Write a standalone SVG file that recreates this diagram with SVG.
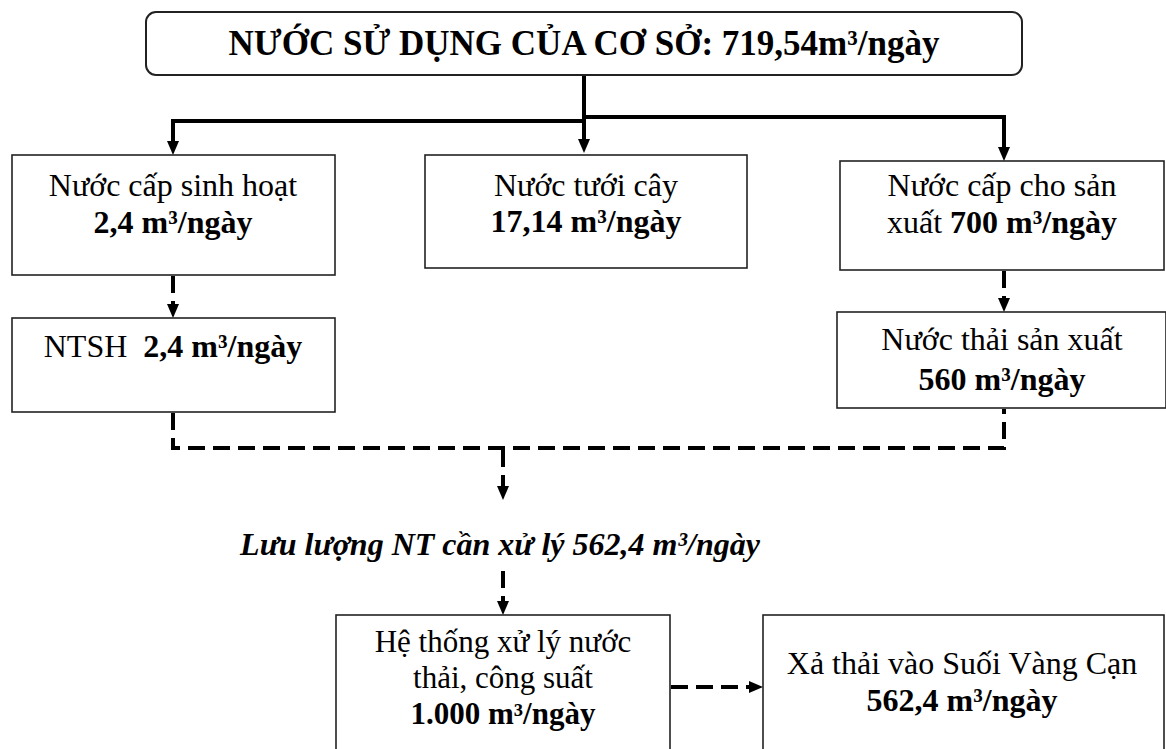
<svg xmlns="http://www.w3.org/2000/svg" width="1166" height="749" viewBox="0 0 1166 749">
<style>
text{font-family:"Liberation Serif","Times New Roman",serif;fill:#000;text-anchor:middle}
.t{font-size:32px}
.n{font-size:31px}
.b{font-weight:bold}
.title{font-size:35px;font-weight:bold}
.it{font-style:italic;font-weight:bold;font-size:32px}
.box{fill:#fff;stroke:#222;stroke-width:1.6}
.solid{fill:none;stroke:#000;stroke-width:4}
.dash{fill:none;stroke:#000;stroke-width:4;stroke-dasharray:17 8}
</style>
<defs>
<marker id="ah" markerUnits="userSpaceOnUse" markerWidth="14" markerHeight="12" viewBox="0 0 14 12" refX="0" refY="6" orient="auto">
<path d="M0,0 L14,6 L0,12 z" fill="#000"/>
</marker>
</defs>
<rect width="1166" height="749" fill="#fff"/>

<g id="connectors">
<path class="solid" d="M584,75 V123 M171,121 H584 M582,117 H1006"/>
<path class="solid" d="M173,121 V141" marker-end="url(#ah)"/>
<path class="solid" d="M584,117 V139" marker-end="url(#ah)"/>
<path class="solid" d="M1004,117 V147" marker-end="url(#ah)"/>
<path class="dash" d="M173,276 V304" marker-end="url(#ah)"/>
<path class="dash" d="M1004,271 V298" marker-end="url(#ah)"/>
<path class="dash" d="M173,413 V448 H1004 V409"/>
<path class="dash" d="M503,450 V486" marker-end="url(#ah)"/>
<path class="dash" d="M503,571 V601" marker-end="url(#ah)"/>
<path class="dash" d="M671,687 H749" marker-end="url(#ah)"/>
</g>

<g id="n_total">
<rect class="box" x="146" y="12" width="876" height="63" rx="10" ry="10" style="stroke-width:2"/>
<text class="title" x="584" y="55">NƯỚC SỬ DỤNG CỦA CƠ SỞ: 719,54m³/ngày</text>
</g>

<g id="n_sinhhoat">
<rect class="box" x="12" y="155" width="323" height="120"/>
<text class="t" x="173" y="196">Nước cấp sinh hoạt</text>
<text class="t b" x="173" y="233">2,4 m³/ngày</text>
</g>

<g id="n_tuoicay">
<rect class="box" x="425" y="155" width="322" height="113"/>
<text class="t" x="586" y="196">Nước tưới cây</text>
<text class="t b" x="586" y="232">17,14 m³/ngày</text>
</g>

<g id="n_sanxuat">
<rect class="box" x="840" y="161" width="324" height="109"/>
<text class="t" x="1002" y="196">Nước cấp cho sản</text>
<text class="t" x="1002" y="233">xuất <tspan class="b">700 m³/ngày</tspan></text>
</g>

<g id="n_ntsh">
<rect class="box" x="12" y="318" width="323" height="94"/>
<text class="t" x="173" y="357" xml:space="preserve">NTSH  <tspan class="b">2,4 m³/ngày</tspan></text>
</g>

<g id="n_ntsx">
<rect class="box" x="837" y="312" width="329" height="96"/>
<text class="t" x="1002" y="350">Nước thải sản xuất</text>
<text class="t b" x="1002" y="390">560 m³/ngày</text>
</g>

<g id="n_luuluong">
<text class="it" x="500" y="555">Lưu lượng NT cần xử lý 562,4 m³/ngày</text>
</g>

<g id="n_hethong">
<rect class="box" x="336" y="615" width="334" height="140"/>
<text class="n" x="503" y="652">Hệ thống xử lý nước</text>
<text class="n" x="503" y="688">thải, công suất</text>
<text class="n b" x="503" y="724">1.000 m³/ngày</text>
</g>

<g id="n_xathai">
<rect class="box" x="763" y="615" width="401" height="140"/>
<text class="t" x="962" y="674">Xả thải vào Suối Vàng Cạn</text>
<text class="t b" x="962" y="711">562,4 m³/ngày</text>
</g>
</svg>
